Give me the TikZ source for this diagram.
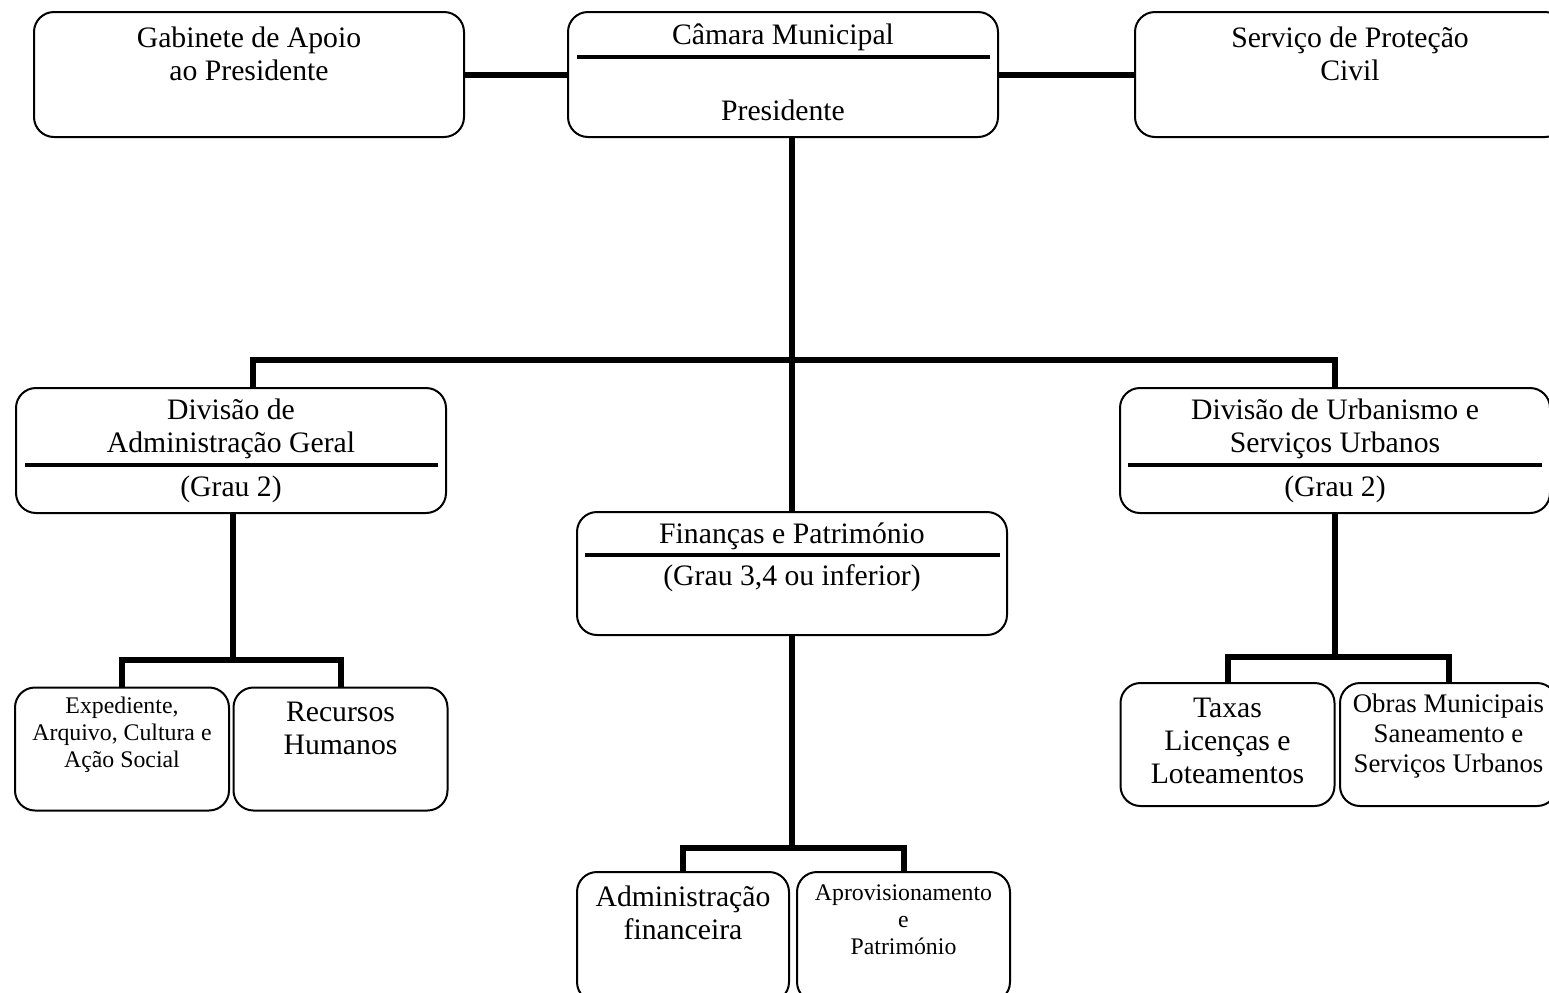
\documentclass[tikz,border=0pt]{standalone}
\usepackage{fontspec}
\setmainfont{Liberation Serif}
\usetikzlibrary{calc}

\tikzset{
  unit/.style={draw, line width=1pt, rounded corners=10pt, inner sep=0pt,
    minimum width=215pt, minimum height=62.5pt},
  subunit/.style={unit, minimum width=107pt, minimum height=61.5pt},
  txt/.style={align=center, inner sep=0pt, font=\fontsize{14.85}{16.5}\selectfont},
  smalltxt/.style={txt, font=\fontsize{11.9}{13.4}\selectfont},
  link/.style={line width=3pt},
  rule/.style={line width=2pt},
}

\begin{document}
\begin{tikzpicture}[x=0.5pt, y=-0.5pt]
	\clip (0,0) rectangle (1549,992);

	% top row
	\node[unit] (gab) at (249,74.5) {};
	\node[unit] (cam) at (783,74.5) {};
	\node[unit] (spc) at (1350,74.5) {};
	\node[txt] (gabt) at (249,53.5) {Gabinete de Apoio\\ao Presidente};
	\node[txt] (camt) at (783,37) {Câmara Municipal};
	\draw[rule] (577,57) -- (990,57);
	\node[txt] (camp) at (783,110) {Presidente};
	\node[txt] (spct) at (1350,53.5) {Serviço de Proteção\\Civil};

	% divisions
	\node[unit] (dag) at (231,450.5) {};
	\node[txt] (dagt) at (231,429) {Divisão de\\Administração Geral};
	\draw[rule] (25,465) -- (438,465);
	\node[txt] (dagg) at (231,489) {(Grau 2)};

	\node[unit] (dus) at (1335,450.5) {};
	\node[txt] (dust) at (1335,429) {Divisão de Urbanismo e\\Serviços Urbanos};
	\draw[rule] (1128,465) -- (1542,465);
	\node[txt] (dusg) at (1335,489) {(Grau 2)};

	\node[unit, minimum height=61.5pt] (fin) at (792,573.5) {};
	\node[txt] (fint) at (792,536) {Finanças e Património};
	\draw[rule] (585,555) -- (1000,555);
	\node[txt] (fing) at (792,578) {(Grau 3,4 ou inferior)};

	% sections
	\node[subunit] (exp) at (122,749) {};
	\node[smalltxt] (expt) at (122,735) {Expediente,\\Arquivo, Cultura e\\Ação Social};
	\node[subunit] (rh) at (340.5,749) {};
	\node[txt] (rht) at (340.5,728.5) {Recursos\\Humanos};

	\node[subunit] (tax) at (1227.5,744.5) {};
	\node[txt] (taxt) at (1227.5,741) {Taxas\\Licenças e\\Loteamentos};
	\node[subunit, minimum width=108.5pt] (obr) at (1448.5,744.5) {};
	\node[txt, font=\fontsize{13.4}{14.8}\selectfont] (obrt) at (1448.5,736)
		{Obras Municipais\\Saneamento e\\Serviços Urbanos};

	\node[subunit, minimum width=106pt, minimum height=65pt] (adm) at (683,937) {};
	\node[txt] (admt) at (683,913) {Administração\\financeira};
	\node[subunit, minimum width=106.5pt, minimum height=65pt] (apr) at (903.5,937) {};
	\node[smalltxt] (aprt) at (903.5,920) {Aprovisionamento\\e\\Património};

	% connectors
	\draw[link] (gab) -- (cam);
	\draw[link] (cam) -- (spc);

	\coordinate (hub) at (792,360);
	\draw[link] (cam.south -| fin.north) -- (fin.north);
	\draw[link] ($(dag.north)+(22,0)$) |- (hub) -| (dus.north);

	\coordinate (dagk) at (233,660);
	\draw[link] (dagk |- dag.south) -- (dagk);
	\draw[link] (exp.north) |- (dagk) -| (rh.north);

	\coordinate (dusk) at (1335,657);
	\draw[link] (dus.south) -- (dusk);
	\draw[link] (tax.north) |- (dusk) -| (obr.north);

	\coordinate (fink) at (792,848);
	\draw[link] (fin.south) -- (fink);
	\draw[link] (adm.north) |- (fink) -| (apr.north);
\end{tikzpicture}
\end{document}
